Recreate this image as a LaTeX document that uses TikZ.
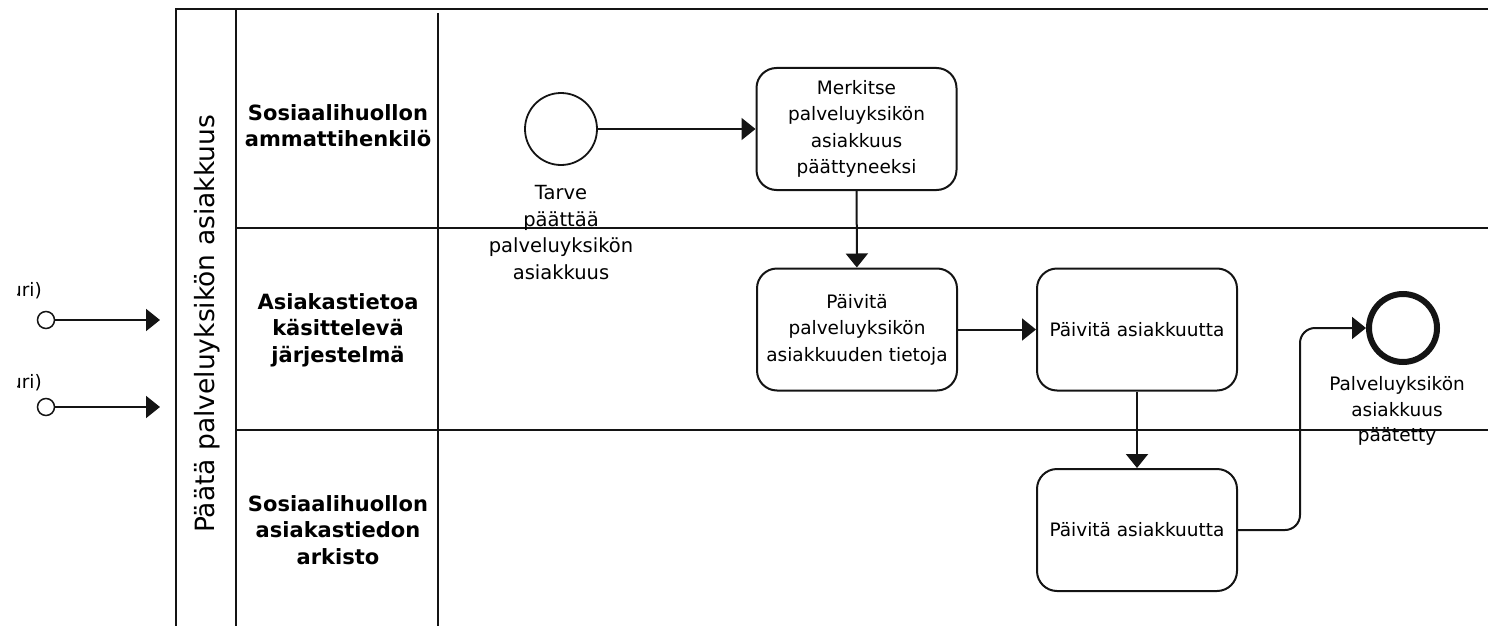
\documentclass[tikz,border=0pt]{standalone}
\usepackage{fontspec}
\setmainfont{DejaVu Sans}
\usetikzlibrary{arrows.meta}

\begin{document}
\begin{tikzpicture}[x=1pt,y=-1pt,
  ink/.style={draw=black!92, line width=2pt},
  task/.style={ink, rectangle, rounded corners=20pt, minimum width=200pt,
    minimum height=122pt, align=center, inner sep=0pt,
    font=\fontsize{18.5}{26.5}\selectfont},
  startev/.style={ink, circle, minimum size=72pt, inner sep=0pt, line width=1.8pt},
  endev/.style={ink, circle, minimum size=68pt, inner sep=0pt, line width=6pt},
  msgev/.style={ink, circle, minimum size=17pt, inner sep=0pt, line width=1.5pt},
  evlabel/.style={align=center, inner sep=0pt, font=\fontsize{18.5}{26}\selectfont},
  lanelabel/.style={align=center, inner sep=0pt, font=\fontsize{21}{26.5}\selectfont\bfseries},
  flow/.style={ink, -{Triangle[length=14pt,width=22pt]}},
]
\useasboundingbox (0,0) rectangle (1488,626);

% pool frame and lanes
\draw[ink] (176,626) -- (176,9) -- (1488,9);
\draw[ink] (236,9) -- (236,626);
\draw[ink] (438,13) -- (438,626);
\draw[ink] (236,228) -- (1488,228);
\draw[ink] (236,430) -- (1488,430);

% pool and lane titles
\node[rotate=90, inner sep=0pt, font=\fontsize{26.5}{30}\selectfont] (pool) at (207,324) {Päätä palveluyksikön asiakkuus};
\node[lanelabel] (lane1) at (338,125.5) {Sosiaalihuollon\\ammattihenkilö};
\node[lanelabel] (lane2) at (338,330) {Asiakastietoa\\käsittelevä\\järjestelmä};
\node[lanelabel] (lane3) at (338,530) {Sosiaalihuollon\\asiakastiedon\\arkisto};

% incoming message flows on the left
\node[msgev] (m1) at (46,320) {};
\node[msgev] (m2) at (46,407) {};
\coordinate (m1end) at (160,320);
\coordinate (m2end) at (160,407);
\draw[flow] (m1) -- (m1end);
\draw[flow] (m2) -- (m2end);
\begin{scope}
  \clip (17,270) rectangle (70,400);
  \node[anchor=east, inner sep=0pt, font=\fontsize{18.5}{22}\selectfont] (m1lab) at (42,291) {uri)};
  \node[anchor=east, inner sep=0pt, font=\fontsize{18.5}{22}\selectfont] (m2lab) at (42,383) {uri)};
\end{scope}

% events
\node[startev] (start) at (561,129) {};
\node[evlabel, font=\fontsize{19.5}{26.5}\selectfont] (startlab) at (561,232.5) {Tarve\\päättää\\palveluyksikön\\asiakkuus};
\node[endev] (end) at (1403,328) {};
\node[evlabel, font=\fontsize{18.5}{25.5}\selectfont] (endlab) at (1397,411) {Palveluyksikön\\asiakkuus\\päätetty};

% tasks
\node[task] (t1) at (856.5,129) {Merkitse\\palveluyksikön\\asiakkuus\\päättyneeksi};
\node[task] (t2) at (857,329.5) {Päivitä\\palveluyksikön\\asiakkuuden tietoja};
\node[task] (t3) at (1137,329.5) {Päivitä asiakkuutta};
\node[task] (t4) at (1137,530) {Päivitä asiakkuutta};

% sequence flows
\draw[flow] (start) -- (t1);
\draw[flow] (t1) -- (t2);
\draw[flow] (t2) -- (t3);
\draw[flow] (t3) -- (t4);
\coordinate (bend) at (1300,0);
\draw[flow, rounded corners=15pt] (t4.east) -- (t4.east -| bend) -- (end.west -| bend) -- (end.west);
\end{tikzpicture}
\end{document}
